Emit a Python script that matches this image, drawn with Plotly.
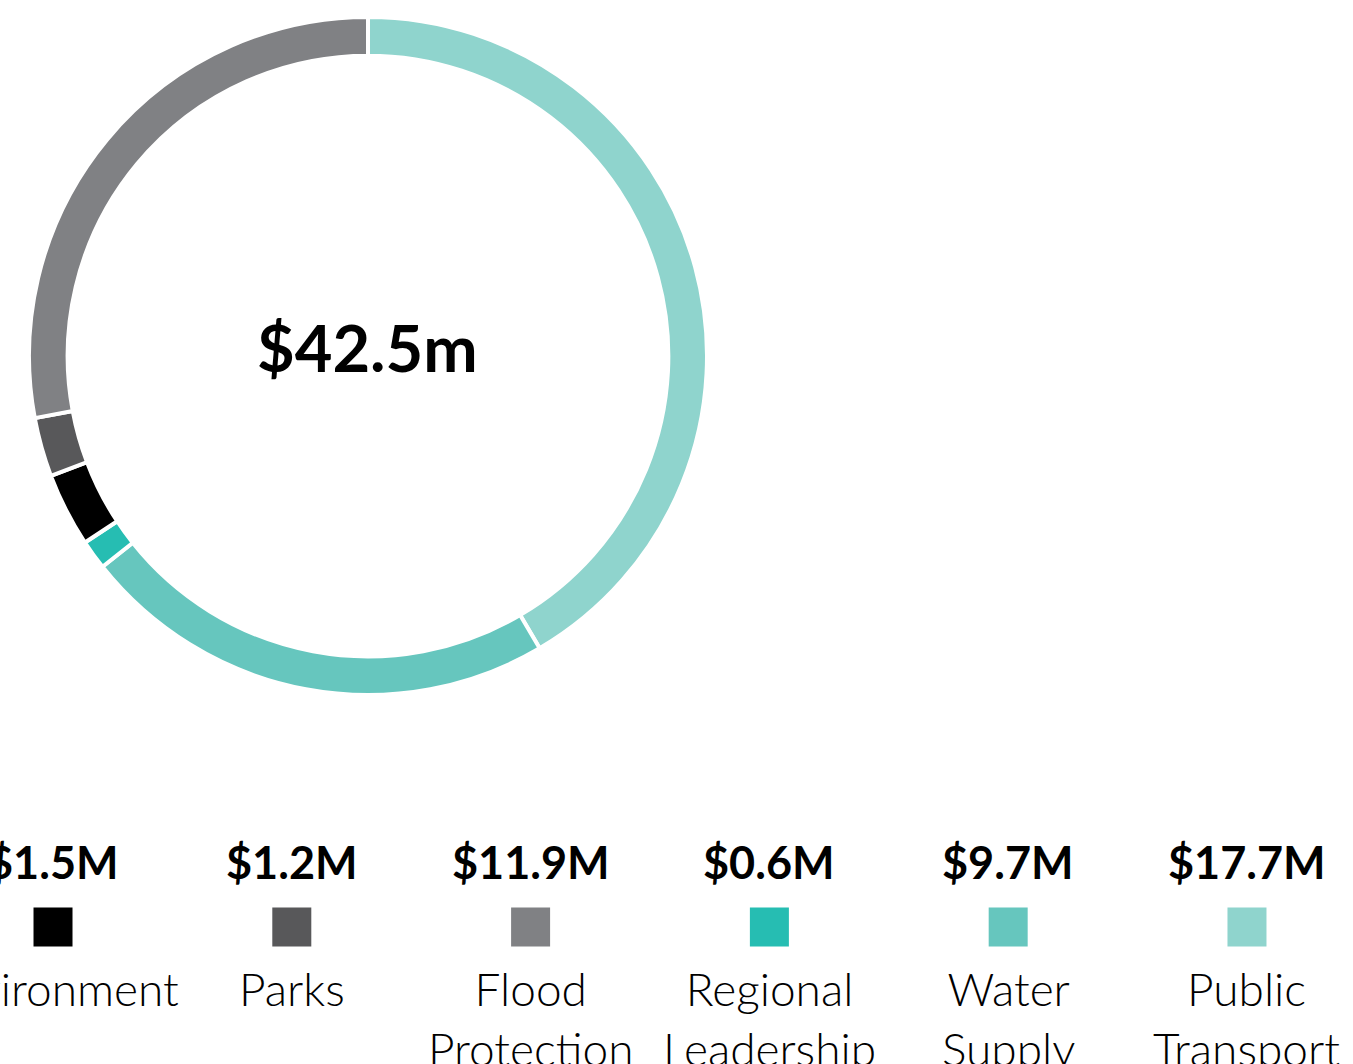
import plotly.graph_objects as go

# ── Data ──────────────────────────────────────────────────────────────────
# ring order (clockwise from 12 o'clock)
ring_labels = ["Public Transport", "Water Supply", "Regional Leadership",
               "Environment", "Parks", "Flood Protection"]
ring_values = [17.7, 9.7, 0.6, 1.5, 1.2, 11.9]

# legend order (left to right)
legend_keys = ["Environment", "Parks", "Flood Protection",
               "Regional Leadership", "Water Supply", "Public Transport"]
legend_text = ["Environment", "Parks", "Flood<br>Protection",
               "Regional<br>Leadership", "Water<br>Supply", "Public<br>Transport"]
legend_amounts = ["$1.5M", "$1.2M", "$11.9M", "$0.6M", "$9.7M", "$17.7M"]

total_label = "$42.5m"

colors = {
    "Public Transport": "#8fd4cd",
    "Water Supply": "#66c6be",
    "Regional Leadership": "#26bdb2",
    "Environment": "#000000",
    "Parks": "#58585a",
    "Flood Protection": "#808184",
}

W, H = 1353, 1064
FONT = "Lato, 'Open Sans', sans-serif"

fig = go.Figure()

# ── Donut ─────────────────────────────────────────────────────────────────
fig.add_trace(go.Pie(
    labels=ring_labels,
    values=ring_values,
    hole=0.886,
    sort=False,
    direction="clockwise",
    rotation=0,
    marker=dict(colors=[colors[k] for k in ring_labels],
                line=dict(color="white", width=4)),
    textinfo="none",
    showlegend=False,
    domain=dict(x=[29 / W, 707 / W], y=[1 - 695 / H, 1 - 17 / H]),
))

# ── Custom legend: squares on a category axis ─────────────────────────────
fig.add_trace(go.Scatter(
    x=legend_keys,
    y=[0] * len(legend_keys),
    mode="markers",
    marker=dict(symbol="square", size=39,
                color=[colors[k] for k in legend_keys]),
    showlegend=False,
    hoverinfo="skip",
))

annotations = [dict(
    text=f"<b>{total_label}</b>",
    xref="paper", yref="paper", x=367 / W, y=1 - 347 / H,
    xanchor="center", yanchor="middle",
    showarrow=False, font=dict(size=65, color="#000000", family=FONT),
)]
for key, amt, lab in zip(legend_keys, legend_amounts, legend_text):
    annotations.append(dict(
        text=f"<b>{amt}</b>", x=key, y=0, xref="x", yref="y",
        yanchor="middle", yshift=65, showarrow=False,
        font=dict(size=45, color="#000000", family=FONT),
    ))
    annotations.append(dict(
        text=lab, x=key, y=0, xref="x", yref="y", yanchor="top",
        yshift=-32, showarrow=False,
        font=dict(size=46, color="#000000", family=FONT, weight=300),
    ))

fig.update_xaxes(type="category", range=[-0.222, 5.444], visible=False,
                 domain=[0, 1], fixedrange=True)
fig.update_yaxes(range=[-1, 1], visible=False, domain=[0, 0.2576],
                 fixedrange=True)

fig.update_layout(
    width=W, height=H,
    margin=dict(l=0, r=0, t=0, b=0),
    paper_bgcolor="white",
    plot_bgcolor="white",
    font=dict(family=FONT, color="#000000"),
    annotations=annotations,
)

fig.write_html(
    "out.html",
    config={"displayModeBar": False},
    post_script="document.body.style.margin='0';",
)
